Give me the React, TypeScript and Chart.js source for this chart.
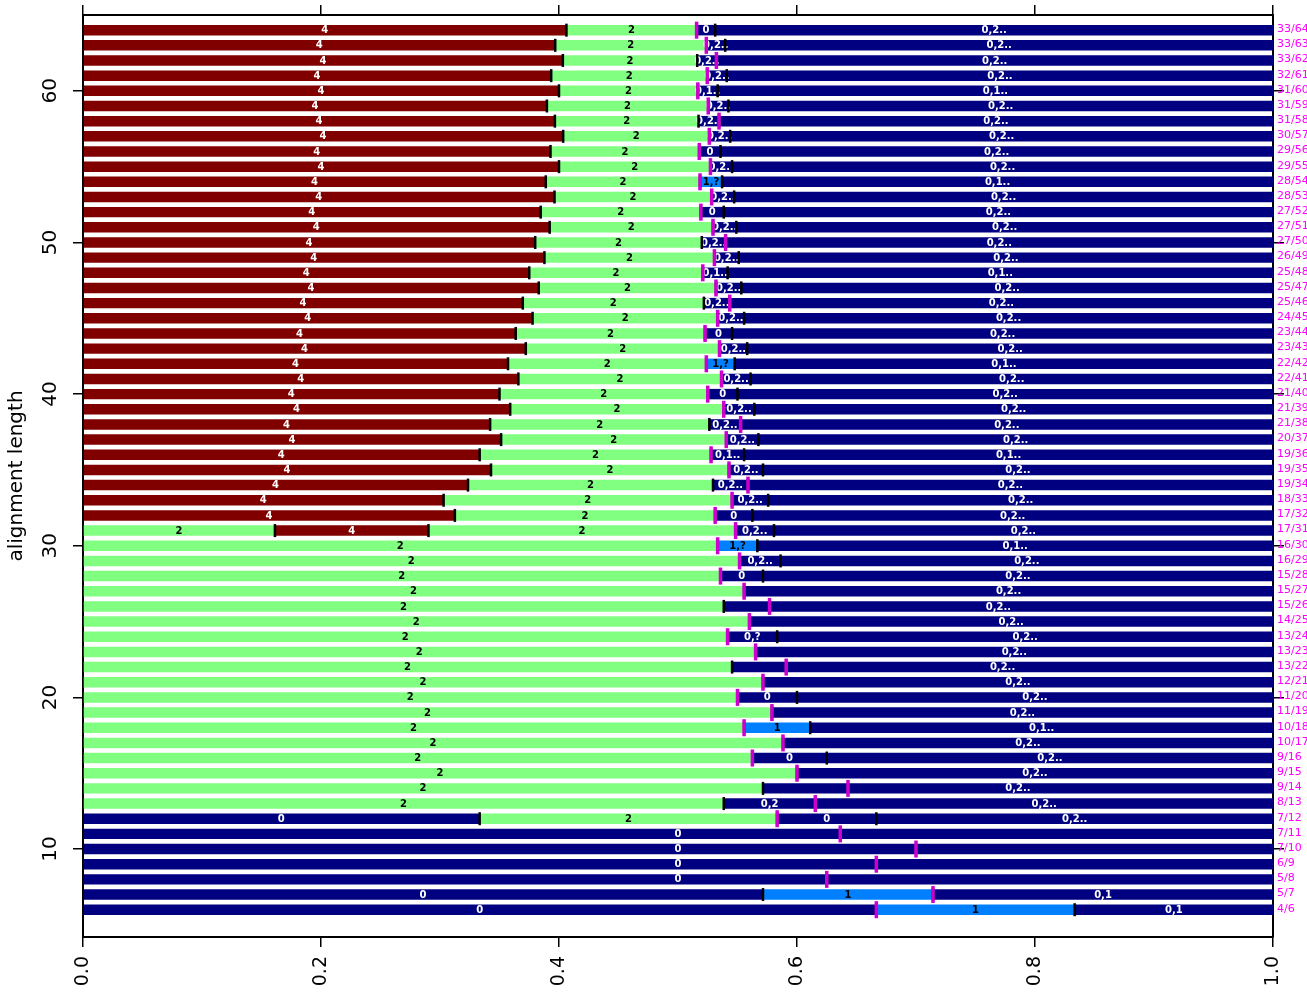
import React, { useEffect, useRef } from 'react';
import { Chart, registerables } from 'chart.js';

Chart.register(...registerables);

// alignment length of each row (top to bottom)
const rowLengths = [
  64, 63, 62, 61, 60, 59, 58, 57, 56, 55, 54, 53, 52, 51, 50, 49, 48, 47, 46, 45,
  44, 43, 42, 41, 40, 39, 38, 37, 36, 35, 34, 33, 32, 31, 30, 29, 28, 27, 26, 25,
  24, 23, 22, 21, 20, 19, 18, 17, 16, 15, 14, 13, 12, 11, 10, 9, 8, 7, 6,
];

// numerator of the right-hand "k/n" label (also the magenta marker position)
const midCounts = [
  33, 33, 33, 32, 31, 31, 31, 30, 29, 29, 28, 28, 27, 27, 27, 26, 25, 25, 25, 24,
  23, 23, 22, 22, 21, 21, 21, 20, 19, 19, 19, 18, 17, 17, 16, 16, 15, 15, 15, 14,
  13, 13, 13, 12, 11, 11, 10, 10, 9, 9, 9, 8, 7, 7, 7, 6, 5, 5, 4,
];

// runs of positions in each row: [label, run length]
const rowRuns: [string, number][][] = [
  [['4', 26], ['2', 7], ['0', 1], ['0,2..', 30]],
  [['4', 25], ['2', 8], ['0,2..', 1], ['0,2..', 29]],
  [['4', 25], ['2', 7], ['0,2..', 1], ['0,2..', 29]],
  [['4', 24], ['2', 8], ['0,2..', 1], ['0,2..', 28]],
  [['4', 24], ['2', 7], ['0,1..', 1], ['0,1..', 28]],
  [['4', 23], ['2', 8], ['0,2..', 1], ['0,2..', 27]],
  [['4', 23], ['2', 7], ['0,2..', 1], ['0,2..', 27]],
  [['4', 23], ['2', 7], ['0,2..', 1], ['0,2..', 26]],
  [['4', 22], ['2', 7], ['0', 1], ['0,2..', 26]],
  [['4', 22], ['2', 7], ['0,2..', 1], ['0,2..', 25]],
  [['4', 21], ['2', 7], ['1,?', 1], ['0,1..', 25]],
  [['4', 21], ['2', 7], ['0,2..', 1], ['0,2..', 24]],
  [['4', 20], ['2', 7], ['0', 1], ['0,2..', 24]],
  [['4', 20], ['2', 7], ['0,2..', 1], ['0,2..', 23]],
  [['4', 19], ['2', 7], ['0,2..', 1], ['0,2..', 23]],
  [['4', 19], ['2', 7], ['0,2..', 1], ['0,2..', 22]],
  [['4', 18], ['2', 7], ['0,1..', 1], ['0,1..', 22]],
  [['4', 18], ['2', 7], ['0,2..', 1], ['0,2..', 21]],
  [['4', 17], ['2', 7], ['0,2..', 1], ['0,2..', 21]],
  [['4', 17], ['2', 7], ['0,2..', 1], ['0,2..', 20]],
  [['4', 16], ['2', 7], ['0', 1], ['0,2..', 20]],
  [['4', 16], ['2', 7], ['0,2..', 1], ['0,2..', 19]],
  [['4', 15], ['2', 7], ['1,?', 1], ['0,1..', 19]],
  [['4', 15], ['2', 7], ['0,2..', 1], ['0,2..', 18]],
  [['4', 14], ['2', 7], ['0', 1], ['0,2..', 18]],
  [['4', 14], ['2', 7], ['0,2..', 1], ['0,2..', 17]],
  [['4', 13], ['2', 7], ['0,2..', 1], ['0,2..', 17]],
  [['4', 13], ['2', 7], ['0,2..', 1], ['0,2..', 16]],
  [['4', 12], ['2', 7], ['0,1..', 1], ['0,1..', 16]],
  [['4', 12], ['2', 7], ['0,2..', 1], ['0,2..', 15]],
  [['4', 11], ['2', 7], ['0,2..', 1], ['0,2..', 15]],
  [['4', 10], ['2', 8], ['0,2..', 1], ['0,2..', 14]],
  [['4', 10], ['2', 7], ['0', 1], ['0,2..', 14]],
  [['2', 5], ['4', 4], ['2', 8], ['0,2..', 1], ['0,2..', 13]],
  [['2', 16], ['1,?', 1], ['0,1..', 13]],
  [['2', 16], ['0,2..', 1], ['0,2..', 12]],
  [['2', 15], ['0', 1], ['0,2..', 12]],
  [['2', 15], ['0,2..', 12]],
  [['2', 14], ['0,2..', 12]],
  [['2', 14], ['0,2..', 11]],
  [['2', 13], ['0,?', 1], ['0,2..', 10]],
  [['2', 13], ['0,2..', 10]],
  [['2', 12], ['0,2..', 10]],
  [['2', 12], ['0,2..', 9]],
  [['2', 11], ['0', 1], ['0,2..', 8]],
  [['2', 11], ['0,2..', 8]],
  [['2', 10], ['1', 1], ['0,1..', 7]],
  [['2', 10], ['0,2..', 7]],
  [['2', 9], ['0', 1], ['0,2..', 6]],
  [['2', 9], ['0,2..', 6]],
  [['2', 8], ['0,2..', 6]],
  [['2', 7], ['0,2', 1], ['0,2..', 5]],
  [['0', 4], ['2', 3], ['0', 1], ['0,2..', 4]],
  [['0', 11]],
  [['0', 10]],
  [['0', 9]],
  [['0', 8]],
  [['0', 4], ['1', 1], ['0,1', 2]],
  [['0', 4], ['1', 1], ['0,1', 1]],
];

const classKeys = ['4', '2', '0', '1'];
const yTitle = 'alignment length';
const xMin = 0;
const xMax = 1;
const xStep = 0.2;
const yMin = 4.2;
const yMax = 65;
const yStep = 10;

const classColors: Record<string, string> = {
  '4': '#800000',
  '2': '#80FF80',
  '0': '#000080',
  '1': '#0080FF',
};
const classText: Record<string, string> = {
  '4': '#FFFFFF',
  '2': '#000000',
  '0': '#FFFFFF',
  '1': '#000000',
};

function buildDatasets() {
  return classKeys.map((key) => {
    const data: { x: [number, number]; y: number }[] = [];
    rowLengths.forEach((n, i) => {
      let cum = 0;
      rowRuns[i].forEach(([lab, len]) => {
        if (lab.charAt(0) === key) data.push({ x: [cum / n, (cum + len) / n], y: n });
        cum += len;
      });
    });
    return {
      label: key,
      data,
      backgroundColor: classColors[key],
      borderWidth: 0,
      grouped: false,
      categoryPercentage: 1,
      barPercentage: 0.69,
    };
  });
}

const overlayPlugin = {
  id: 'overlay',
  afterDatasetsDraw(chart: any) {
    const { ctx } = chart;
    const x = chart.scales.x;
    const y = chart.scales.y;
    ctx.save();
    ctx.font = 'bold 10px "DejaVu Sans"';
    ctx.textAlign = 'center';
    ctx.textBaseline = 'middle';
    rowLengths.forEach((n, i) => {
      const yc = y.getPixelForValue(n);
      let cum = 0;
      rowRuns[i].forEach(([lab, len]) => {
        const xc = x.getPixelForValue((cum + len / 2) / n);
        ctx.fillStyle = classText[lab.charAt(0)];
        ctx.fillText(lab, xc, yc + 0.5);
        cum += len;
      });
    });
    // black run boundaries
    ctx.fillStyle = '#000000';
    rowLengths.forEach((n, i) => {
      const yc = y.getPixelForValue(n);
      let cum = 0;
      const runs = rowRuns[i];
      for (let j = 0; j < runs.length - 1; j++) {
        cum += runs[j][1];
        const xp = x.getPixelForValue(cum / n);
        ctx.fillRect(xp - 1.25, yc - 6.5, 2.5, 13);
      }
    });
    // magenta k/n markers
    ctx.fillStyle = '#CD00CD';
    rowLengths.forEach((n, i) => {
      const yc = y.getPixelForValue(n);
      const xp = x.getPixelForValue(midCounts[i] / n);
      ctx.fillRect(xp - 1.75, yc - 8.5, 3.5, 17);
    });
    ctx.restore();
  },
  afterDraw(chart: any) {
    const { ctx, chartArea } = chart;
    const y = chart.scales.y;
    ctx.save();
    // left tick labels, parallel to the axis
    ctx.font = '20px "DejaVu Sans"';
    ctx.fillStyle = '#000000';
    ctx.textAlign = 'center';
    ctx.textBaseline = 'middle';
    y.ticks.forEach((t: any) => {
      const yp = y.getPixelForValue(t.value);
      ctx.save();
      ctx.translate(51, yp);
      ctx.rotate(-Math.PI / 2);
      ctx.fillText(String(t.value), 0, 0);
      ctx.restore();
    });
    // right-hand k/n labels
    ctx.font = '11px "DejaVu Sans"';
    ctx.fillStyle = '#FF00FF';
    ctx.textAlign = 'left';
    rowLengths.forEach((n, i) => {
      const yp = y.getPixelForValue(n);
      ctx.fillText(`${midCounts[i]}/${n}`, chartArea.right + 4, yp - 1);
    });
    ctx.restore();
  },
};

const axisGrid = {
  display: true,
  drawOnChartArea: false,
  drawTicks: true,
  tickLength: 10,
  color: '#000000',
  tickColor: '#000000',
  tickWidth: 1.5,
  lineWidth: 1.5,
  offset: false,
};
const axisBorder = { display: true, color: '#000000', width: 2 };

export default function App() {
  const ref = useRef<HTMLCanvasElement | null>(null);
  useEffect(() => {
    document.body.style.margin = '0';
    const canvas = ref.current;
    if (!canvas) return;
    const chart = new Chart(canvas, {
      type: 'bar',
      data: { datasets: buildDatasets() as any },
      options: {
        indexAxis: 'y',
        animation: false,
        responsive: false,
        events: [],
        layout: { padding: 0 },
        plugins: { legend: { display: false }, tooltip: { enabled: false } },
        scales: {
          x: {
            type: 'linear',
            position: 'bottom',
            min: xMin,
            max: xMax,
            offset: false,
            ticks: {
              stepSize: xStep,
              includeBounds: false,
              minRotation: 90,
              maxRotation: 90,
              padding: 9,
              color: '#000000',
              font: { family: 'DejaVu Sans', size: 19 },
              callback: (v: any) => Number(v).toFixed(1),
            },
            grid: axisGrid,
            border: axisBorder,
            afterFit: (s: any) => {
              s.height = 58;
            },
          },
          x2: {
            type: 'linear',
            position: 'top',
            min: xMin,
            max: xMax,
            offset: false,
            ticks: { display: false, stepSize: xStep, includeBounds: false },
            grid: axisGrid,
            border: axisBorder,
            afterFit: (s: any) => {
              s.height = 15;
            },
          },
          y: {
            type: 'linear',
            position: 'left',
            min: yMin,
            max: yMax,
            offset: false,
            ticks: { display: false, stepSize: yStep, includeBounds: false },
            grid: axisGrid,
            border: axisBorder,
            title: {
              display: true,
              text: yTitle,
              color: '#000000',
              font: { family: 'DejaVu Sans', size: 20 },
              padding: { top: 5, bottom: 0 },
            },
            afterFit: (s: any) => {
              s.width = 83;
            },
          },
          y2: {
            type: 'linear',
            position: 'right',
            min: yMin,
            max: yMax,
            offset: false,
            ticks: { display: false, stepSize: yStep, includeBounds: false },
            grid: { ...axisGrid, tickLength: 11 },
            border: axisBorder,
            afterFit: (s: any) => {
              s.width = 34;
            },
          },
        },
      } as any,
      plugins: [overlayPlugin],
    });
    return () => chart.destroy();
  }, []);
  return <canvas ref={ref} width={1307} height={995} style={{ display: 'block' }} />;
}
